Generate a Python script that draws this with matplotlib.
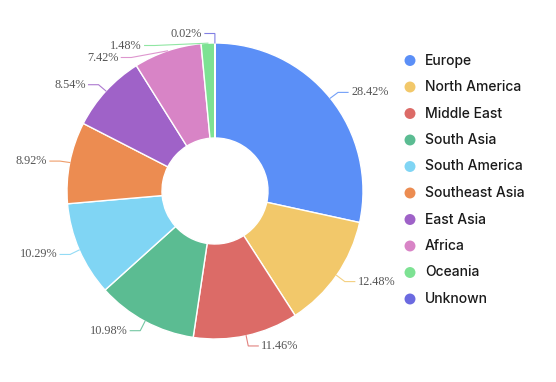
import numpy as np
import matplotlib
matplotlib.use("Agg")
import matplotlib.pyplot as plt
from matplotlib.patches import Wedge

# data
regions = ['Europe', 'North America', 'Middle East', 'South Asia', 'South America',
           'Southeast Asia', 'East Asia', 'Africa', 'Oceania', 'Unknown']
shares = [28.42, 12.48, 11.46, 10.98, 10.29, 8.92, 8.54, 7.42, 1.48, 0.02]
colors = ['#5b8ff7', '#f2c86a', '#dc6b67', '#5bbc92', '#80d5f4',
          '#ec8c51', '#9f62c8', '#d884c6', '#7de293', '#6b6ae0']

W, H = 556, 382
fig = plt.figure(figsize=(W / 100, H / 100), dpi=100)
ax = fig.add_axes([0, 0, 1, 1])
ax.set_xlim(0, W)
ax.set_ylim(H, 0)
ax.axis('off')

cx, cy = 215, 191   # pie centre (px)
R, r_in = 148, 53
len1, len2 = 10, 10

vals = np.array(shares)
frac = vals / vals.sum()
cum = np.concatenate([[0], np.cumsum(frac)])

labels = []
for i, (name, c) in enumerate(zip(regions, colors)):
    t1 = -90 + 360 * cum[i]
    t2 = -90 + 360 * cum[i + 1]
    ax.add_patch(Wedge((cx, cy), R, t1, t2, width=R - r_in, facecolor=c,
                       edgecolor='white', linewidth=1.0))
    phi = np.deg2rad((t1 + t2) / 2)
    ax_x, ax_y = cx + R * np.cos(phi), cy + R * np.sin(phi)
    ey = cy + (R + len1) * np.sin(phi)
    side = 1 if np.cos(phi) > 0 else -1
    labels.append(dict(i=i, ax=ax_x, ay=ax_y, ey=ey, side=side))

# simple overlap resolution per side
gap = 12
for side in (1, -1):
    grp = sorted([l for l in labels if l['side'] == side], key=lambda l: l['ey'])
    for k in range(1, len(grp)):
        grp[k]['ey'] = max(grp[k]['ey'], grp[k - 1]['ey'] + gap)

for l in labels:
    i, side = l['i'], l['side']
    dy = l['ey'] - cy
    ex = cx + side * np.sqrt(max(0.0, (R + len1) ** 2 - dy ** 2))
    end = ex + side * len2
    ax.plot([l['ax'], ex, end], [l['ay'], l['ey'] + 0.5, l['ey'] + 0.5],
            color=colors[i], linewidth=0.8, alpha=0.85, solid_joinstyle='miter')
    ax.text(end + side * 3, l['ey'] + 0.5, f'{shares[i]:.2f}%',
            ha='left' if side > 0 else 'right', va='center',
            fontfamily='Liberation Serif', fontsize=8.8, color='#555555')

# legend
ly0, lstep = 60.5, 26.5
for i, (name, c) in enumerate(zip(regions, colors)):
    y = ly0 + i * lstep
    ax.scatter([410], [y], s=62, color=c, edgecolors='none')
    ax.text(425, y, name, ha='left', va='center', fontfamily='Inter',
            fontsize=10, fontweight='medium', color='#1a1a1a')

fig.savefig('out.png', dpi=100)
